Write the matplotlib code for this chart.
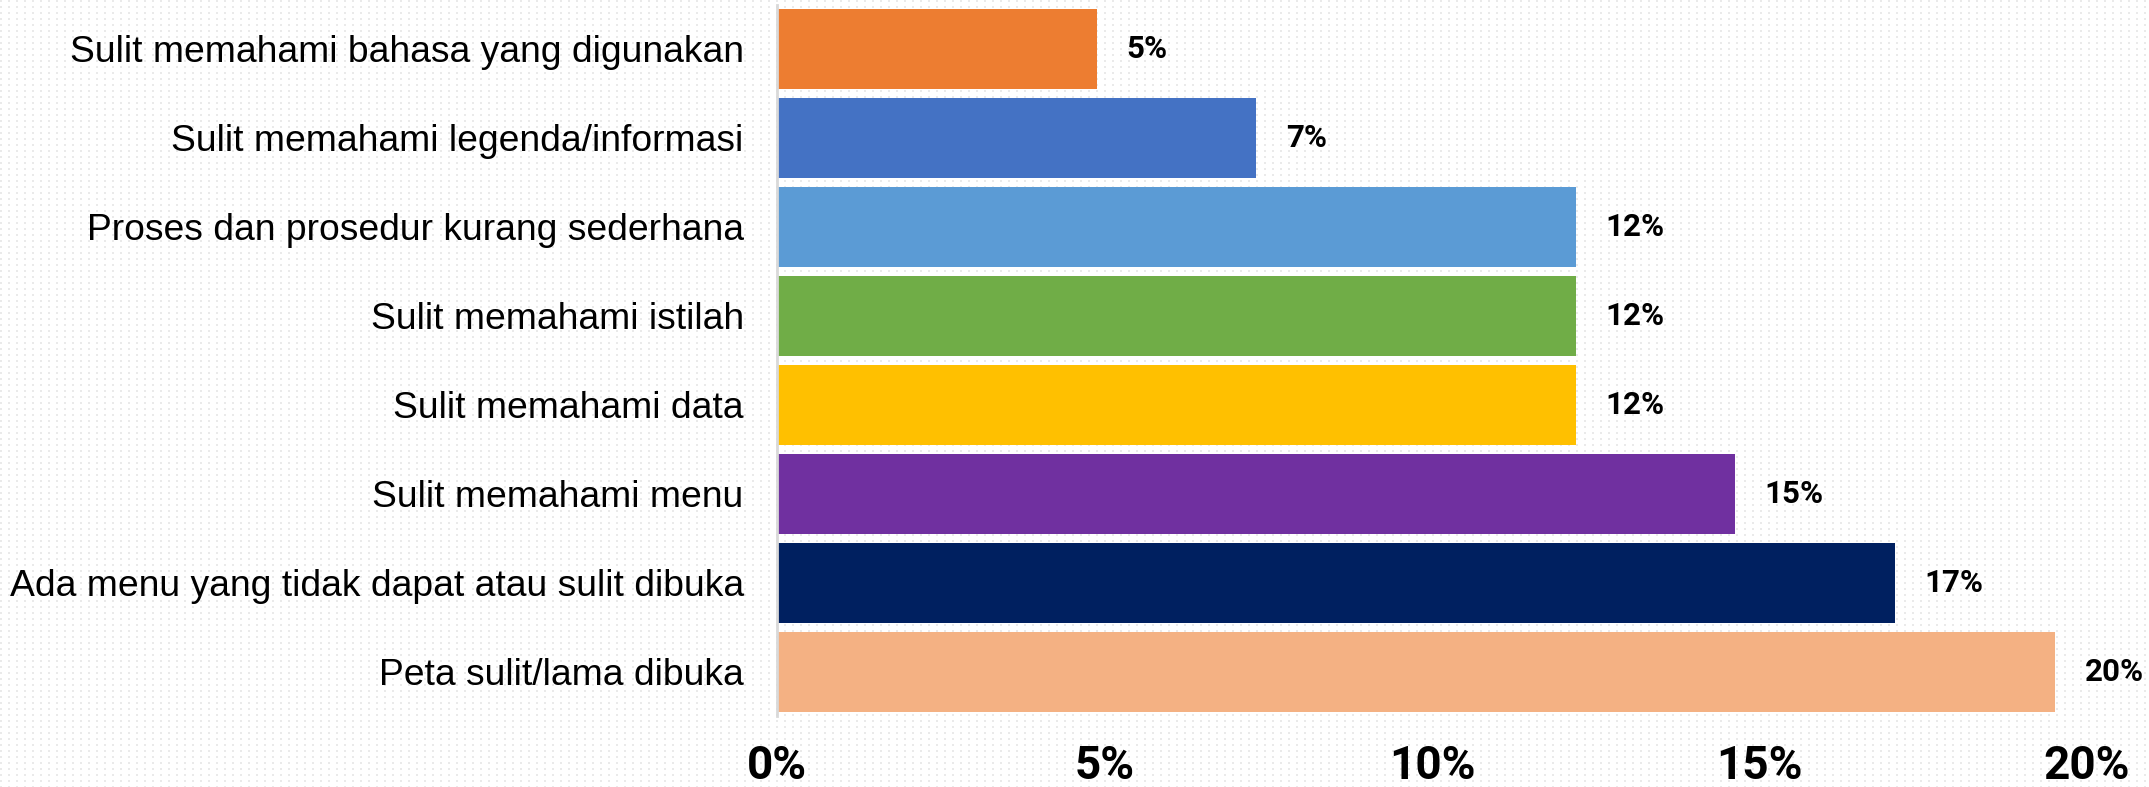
import numpy as np
import matplotlib
matplotlib.use("Agg")
import matplotlib.pyplot as plt

# problems reported, share of respondents (n = 41)
categories = [
    "Sulit memahami bahasa yang digunakan",
    "Sulit memahami legenda/informasi",
    "Proses dan prosedur kurang sederhana",
    "Sulit memahami istilah",
    "Sulit memahami data",
    "Sulit memahami menu",
    "Ada menu yang tidak dapat atau sulit dibuka",
    "Peta sulit/lama dibuka",
]
values = [4.88, 7.32, 12.20, 12.20, 12.20, 14.63, 17.07, 19.51]
bar_labels = ["5%", "7%", "12%", "12%", "12%", "15%", "17%", "20%"]
colors = ["#ED7D31", "#4472C4", "#5B9BD5", "#70AD47",
          "#FFC000", "#7030A0", "#002060", "#F4B183"]
xticks = [0, 5, 10, 15, 20]
xtick_labels = ["0%", "5%", "10%", "15%", "20%"]

W, H, DPI = 2149, 787, 100
fig = plt.figure(figsize=(W / DPI, H / DPI), dpi=DPI)
fig.patch.set_facecolor("white")

# dotted background pattern
bg = np.ones((H, W, 3))
yy, xx = np.mgrid[0:H, 0:W]
dots = ((xx % 8) < 2) & ((yy % 6) < 2)
bg[dots] = 0.92
fig.figimage(bg, xo=0, yo=0, zorder=-10)

ax = fig.add_axes([777 / W, (H - 716) / H, (2087 - 777) / W, 711.5 / H])
ax.set_facecolor("none")
ax.set_zorder(1)

y = np.arange(len(categories))
ax.barh(y, values, height=0.9, color=colors, zorder=2)
ax.set_ylim(len(categories) - 0.5, -0.5)
ax.set_xlim(0, 20)

for yi, v, lab in zip(y, values, bar_labels):
    ax.text(v + 0.45, yi, lab, va="center", ha="left",
            fontsize=22.5, fontweight="bold", family="Roboto", zorder=3)

ax.set_yticks(y)
ax.set_yticklabels(categories, fontsize=26.8, family="Liberation Sans")
ax.set_xticks(xticks)
ax.set_xticklabels(xtick_labels, fontsize=33, fontweight="bold",
                   family="Roboto")
ax.tick_params(axis="y", length=0, pad=24)
ax.tick_params(axis="x", length=0, pad=20)

for side in ["top", "right", "bottom"]:
    ax.spines[side].set_visible(False)
ax.spines["left"].set_color("#d9d9d9")
ax.spines["left"].set_linewidth(2)

fig.savefig("out.png", dpi=DPI)
